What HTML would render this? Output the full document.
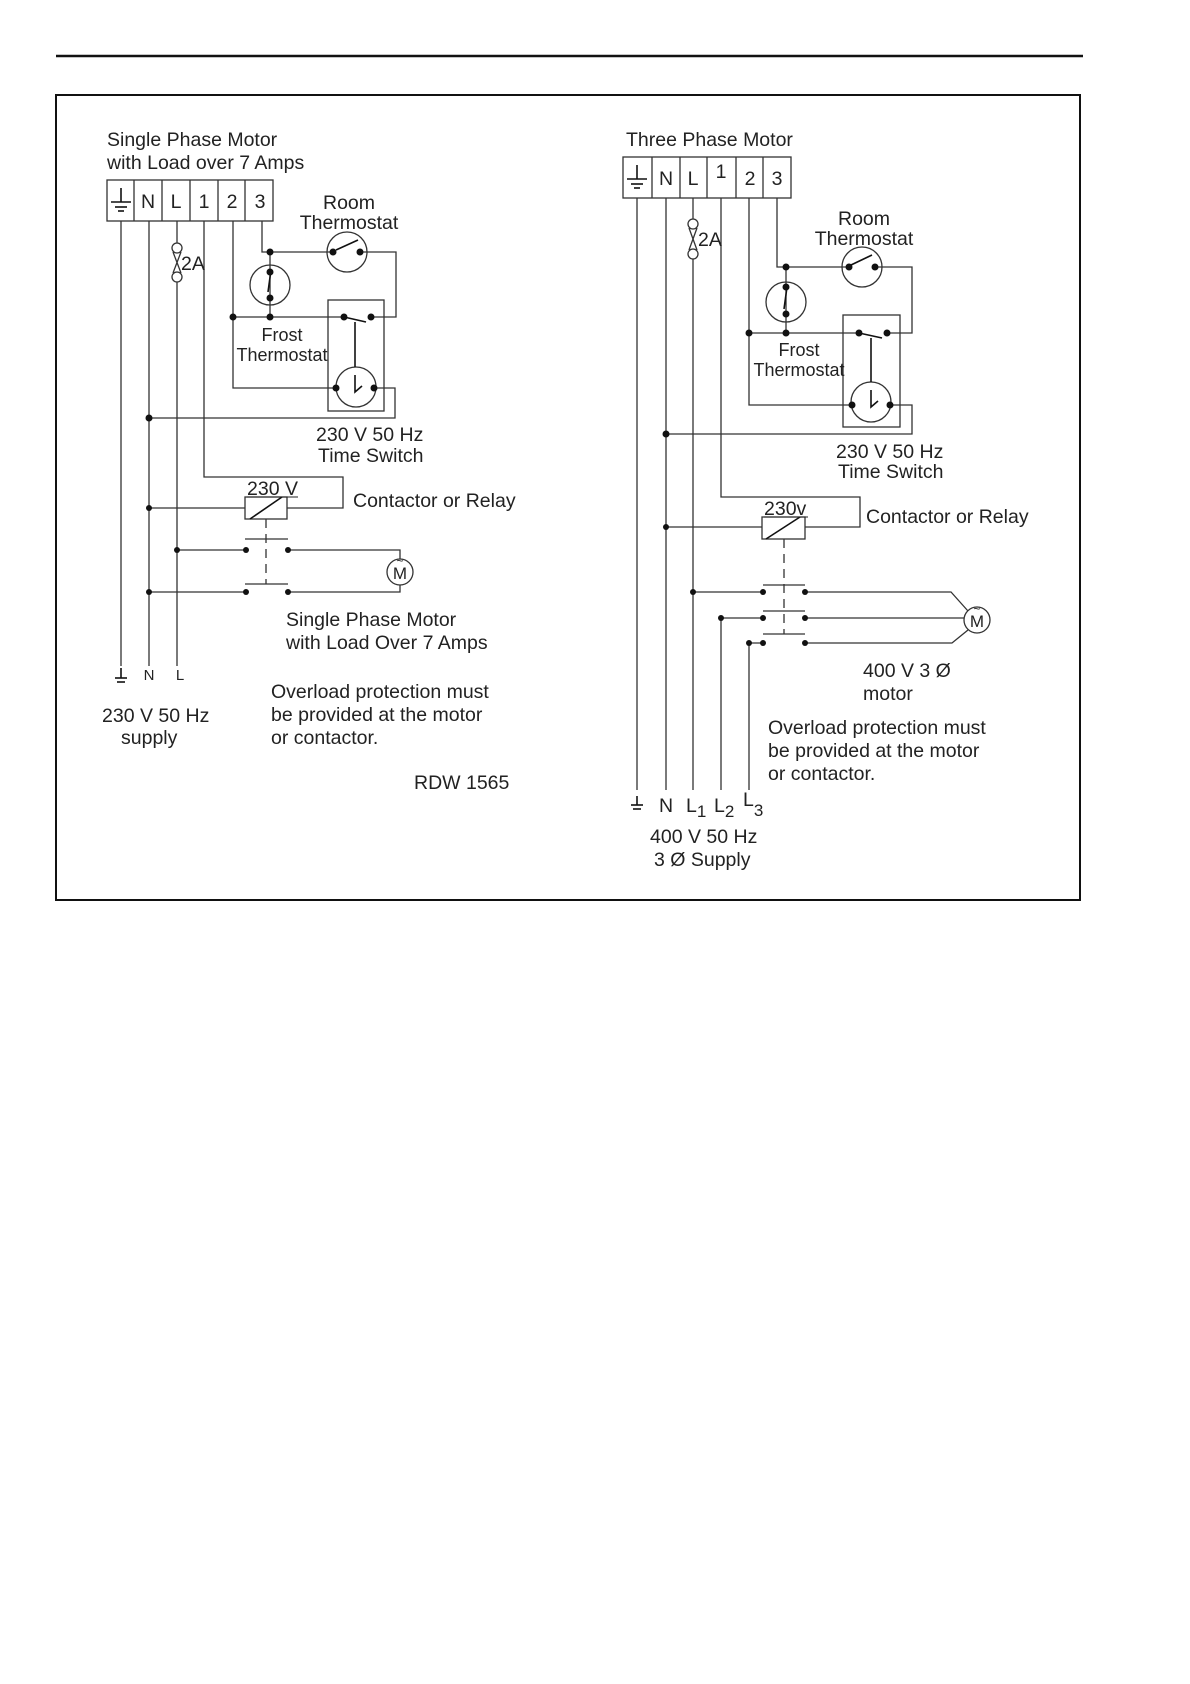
<!DOCTYPE html>
<html><head><meta charset="utf-8"><style>
html,body{margin:0;padding:0;background:#fff;}
svg{display:block;}
text{font-family:"Liberation Sans",sans-serif;fill:#222;}
</style></head><body>
<svg width="1190" height="1684" viewBox="0 0 1190 1684" xmlns="http://www.w3.org/2000/svg">
<line x1="56" y1="56" x2="1083" y2="56" stroke="#111" stroke-width="2.5"/>
<rect x="56" y="95" width="1024" height="805" fill="none" stroke="#111" stroke-width="2"/>
<g stroke="#333" stroke-width="1.3" fill="none">
<rect x="107" y="180" width="166" height="41"/>
<line x1="134" y1="180" x2="134" y2="221"/><line x1="162" y1="180" x2="162" y2="221"/>
<line x1="190" y1="180" x2="190" y2="221"/><line x1="218" y1="180" x2="218" y2="221"/>
<line x1="245" y1="180" x2="245" y2="221"/>
<line x1="121" y1="221" x2="121" y2="666"/>
<line x1="149" y1="221" x2="149" y2="666"/>
<line x1="177" y1="221" x2="177" y2="243"/><line x1="177" y1="282" x2="177" y2="666"/>
<circle cx="177" cy="248" r="5"/><circle cx="177" cy="277" r="5"/>
<line x1="173" y1="252" x2="181" y2="273"/><line x1="181" y1="252" x2="173" y2="273"/>
<polyline points="204,221 204,477 343,477 343,508 287,508"/>
<polyline points="233,221 233,388 336,388"/>
<polyline points="262,221 262,252 333,252"/>
<circle cx="347" cy="252" r="20"/>
<polyline points="360,252 396,252 396,317 371,317"/>
<line x1="270" y1="252" x2="270" y2="317"/>
<circle cx="270" cy="285" r="20"/>
<line x1="233" y1="317" x2="344" y2="317"/>
<rect x="328" y="300" width="56" height="111"/>
<circle cx="356" cy="387" r="20"/>
<polyline points="374,388 395,388 395,418 149,418"/>
<line x1="149" y1="508" x2="245" y2="508"/>
<rect x="245" y="497" width="42" height="22"/>
<line x1="177" y1="550" x2="246" y2="550"/>
<polyline points="288,550 400,550 400,559"/>
<line x1="149" y1="592" x2="246" y2="592"/>
<polyline points="288,592 400,592 400,585"/>
<circle cx="400" cy="572" r="13"/>
<line x1="245" y1="539" x2="288" y2="539"/><line x1="245" y1="584" x2="288" y2="584"/>
<line x1="266" y1="519" x2="266" y2="584" stroke-dasharray="9,6"/>
<rect x="623" y="157" width="168" height="41"/>
<line x1="652" y1="157" x2="652" y2="198"/><line x1="680" y1="157" x2="680" y2="198"/>
<line x1="707" y1="157" x2="707" y2="198"/><line x1="736" y1="157" x2="736" y2="198"/>
<line x1="763" y1="157" x2="763" y2="198"/>
<line x1="637" y1="198" x2="637" y2="790"/>
<line x1="666" y1="198" x2="666" y2="790"/>
<line x1="693" y1="198" x2="693" y2="219"/><line x1="693" y1="259" x2="693" y2="790"/>
<circle cx="693" cy="224" r="5"/><circle cx="693" cy="254" r="5"/>
<line x1="689" y1="228" x2="697" y2="250"/><line x1="697" y1="228" x2="689" y2="250"/>
<polyline points="721,198 721,497 860,497 860,527 805,527"/>
<polyline points="749,198 749,405 852,405"/>
<polyline points="777,198 777,267 849,267"/>
<circle cx="862" cy="267" r="20"/>
<polyline points="875,267 912,267 912,333 887,333"/>
<line x1="786" y1="267" x2="786" y2="333"/>
<circle cx="786" cy="302" r="20"/>
<line x1="749" y1="333" x2="859" y2="333"/>
<rect x="843" y="315" width="57" height="112"/>
<circle cx="871" cy="402" r="20"/>
<polyline points="890,405 912,405 912,434 666,434"/>
<line x1="666" y1="527" x2="762" y2="527"/>
<rect x="762" y="517" width="43" height="22"/>
<line x1="784" y1="539" x2="784" y2="634" stroke-dasharray="9,6"/>
<line x1="693" y1="592" x2="763" y2="592"/>
<polyline points="721,790 721,618 763,618"/>
<polyline points="749,790 749,643 763,643"/>
<polyline points="805,592 951,592 968,611"/>
<line x1="805" y1="618" x2="964" y2="618"/>
<polyline points="805,643 952,643 968,630"/>
<circle cx="977" cy="620" r="13"/>
<line x1="763" y1="585" x2="805" y2="585"/><line x1="763" y1="611" x2="805" y2="611"/><line x1="763" y1="634" x2="805" y2="634"/>
</g>
<g stroke="#111" stroke-width="1.6" fill="none">
<line x1="336" y1="250" x2="358" y2="240"/>
<line x1="268" y1="292" x2="271" y2="270"/>
<line x1="344" y1="317" x2="366" y2="322"/>
<line x1="355" y1="322" x2="355" y2="367"/>
<polyline points="355,375 355,392 362,386"/>
<line x1="250" y1="519" x2="282" y2="497"/>
<line x1="851" y1="265" x2="872" y2="255"/>
<line x1="784" y1="309" x2="787" y2="287"/>
<line x1="859" y1="333" x2="882" y2="338"/>
<line x1="871" y1="338" x2="871" y2="382"/>
<polyline points="871,390 871,407 878,401"/>
<line x1="766" y1="539" x2="800" y2="517"/>
<line x1="121" y1="188" x2="121" y2="202"/><line x1="111" y1="202" x2="131" y2="202"/><line x1="115" y1="207" x2="127" y2="207"/><line x1="118" y1="211" x2="124" y2="211"/>
<line x1="637" y1="165" x2="637" y2="179"/><line x1="627" y1="179" x2="647" y2="179"/><line x1="631" y1="184" x2="643" y2="184"/><line x1="634" y1="188" x2="640" y2="188"/>
<line x1="121" y1="668" x2="121" y2="678"/><line x1="115" y1="678" x2="127" y2="678"/><line x1="117" y1="682" x2="125" y2="682"/>
<line x1="637" y1="796" x2="637" y2="805"/><line x1="631" y1="805" x2="643" y2="805"/><line x1="633" y1="809" x2="641" y2="809"/>
</g>
<g fill="#111">
<circle cx="270" cy="252" r="3.5"/><circle cx="333" cy="252" r="3.5"/><circle cx="360" cy="252" r="3.5"/>
<circle cx="270" cy="272" r="3.5"/><circle cx="270" cy="298" r="3.5"/><circle cx="270" cy="317" r="3.5"/>
<circle cx="233" cy="317" r="3.5"/><circle cx="344" cy="317" r="3.5"/><circle cx="371" cy="317" r="3.5"/>
<circle cx="336" cy="388" r="3.5"/><circle cx="374" cy="388" r="3.5"/><circle cx="149" cy="418" r="3.5"/>
<circle cx="149" cy="508" r="3"/><circle cx="177" cy="550" r="3"/><circle cx="149" cy="592" r="3"/>
<circle cx="246" cy="550" r="3"/><circle cx="288" cy="550" r="3"/><circle cx="246" cy="592" r="3"/><circle cx="288" cy="592" r="3"/>
<circle cx="786" cy="267" r="3.5"/><circle cx="849" cy="267" r="3.5"/><circle cx="875" cy="267" r="3.5"/>
<circle cx="786" cy="287" r="3.5"/><circle cx="786" cy="314" r="3.5"/><circle cx="786" cy="333" r="3.5"/>
<circle cx="749" cy="333" r="3.5"/><circle cx="859" cy="333" r="3.5"/><circle cx="887" cy="333" r="3.5"/>
<circle cx="852" cy="405" r="3.5"/><circle cx="890" cy="405" r="3.5"/><circle cx="666" cy="434" r="3.5"/>
<circle cx="666" cy="527" r="3"/><circle cx="693" cy="592" r="3"/><circle cx="721" cy="618" r="3"/><circle cx="749" cy="643" r="3"/>
<circle cx="763" cy="592" r="3"/><circle cx="805" cy="592" r="3"/><circle cx="763" cy="618" r="3"/><circle cx="805" cy="618" r="3"/><circle cx="763" cy="643" r="3"/><circle cx="805" cy="643" r="3"/>
</g>
<g font-size="19.5">
<text x="107" y="146">Single Phase Motor</text>
<text x="107" y="169">with Load over 7 Amps</text>
<text x="148" y="208" text-anchor="middle">N</text><text x="176" y="208" text-anchor="middle">L</text>
<text x="204" y="208" text-anchor="middle">1</text><text x="232" y="208" text-anchor="middle">2</text><text x="260" y="208" text-anchor="middle">3</text>
<text x="181" y="270">2A</text>
<text x="349" y="209" text-anchor="middle">Room</text>
<text x="349" y="229" text-anchor="middle">Thermostat</text>
<text x="282" y="341" text-anchor="middle" font-size="18">Frost</text>
<text x="282" y="361" text-anchor="middle" font-size="18">Thermostat</text>
<text x="316" y="441">230 V 50 Hz</text>
<text x="318" y="462">Time Switch</text>
<text x="247" y="495">230 V</text>
<line x1="247" y1="497" x2="298" y2="497" stroke="#222" stroke-width="1"/>
<text x="353" y="507">Contactor or Relay</text>
<text x="400" y="579" font-size="17" text-anchor="middle">M</text>
<text x="400" y="565" font-size="12" text-anchor="middle">~</text>
<text x="286" y="626">Single Phase Motor</text>
<text x="286" y="649">with Load Over 7 Amps</text>
<text x="149" y="680" font-size="15" text-anchor="middle">N</text>
<text x="180" y="680" font-size="15" text-anchor="middle">L</text>
<text x="271" y="698">Overload protection must</text>
<text x="271" y="721">be provided at the motor</text>
<text x="271" y="744">or contactor.</text>
<text x="102" y="722">230 V 50 Hz</text>
<text x="121" y="744">supply</text>
<text x="414" y="789">RDW 1565</text>
<text x="626" y="146">Three Phase Motor</text>
<text x="666" y="185" text-anchor="middle">N</text><text x="693" y="185" text-anchor="middle">L</text>
<text x="721" y="178" text-anchor="middle">1</text><text x="750" y="185" text-anchor="middle">2</text><text x="777" y="185" text-anchor="middle">3</text>
<text x="698" y="246">2A</text>
<text x="864" y="225" text-anchor="middle">Room</text>
<text x="864" y="245" text-anchor="middle">Thermostat</text>
<text x="799" y="356" text-anchor="middle" font-size="18">Frost</text>
<text x="799" y="376" text-anchor="middle" font-size="18">Thermostat</text>
<text x="836" y="458">230 V 50 Hz</text>
<text x="838" y="478">Time Switch</text>
<text x="764" y="515">230v</text>
<line x1="764" y1="517" x2="808" y2="517" stroke="#222" stroke-width="1"/>
<text x="866" y="523">Contactor or Relay</text>
<text x="977" y="627" font-size="17" text-anchor="middle">M</text>
<text x="977" y="613" font-size="12" text-anchor="middle">~</text>
<text x="863" y="677">400 V 3 Ø</text>
<text x="863" y="700">motor</text>
<text x="768" y="734">Overload protection must</text>
<text x="768" y="757">be provided at the motor</text>
<text x="768" y="780">or contactor.</text>
<text x="666" y="812" text-anchor="middle">N</text>
<text x="686" y="812">L<tspan font-size="17" dy="5">1</tspan></text>
<text x="714" y="812">L<tspan font-size="17" dy="5">2</tspan></text>
<text x="743" y="806">L<tspan font-size="17" dy="10">3</tspan></text>
<text x="650" y="843">400 V 50 Hz</text>
<text x="654" y="866">3 Ø Supply</text>
</g>
</svg>
</body></html>
